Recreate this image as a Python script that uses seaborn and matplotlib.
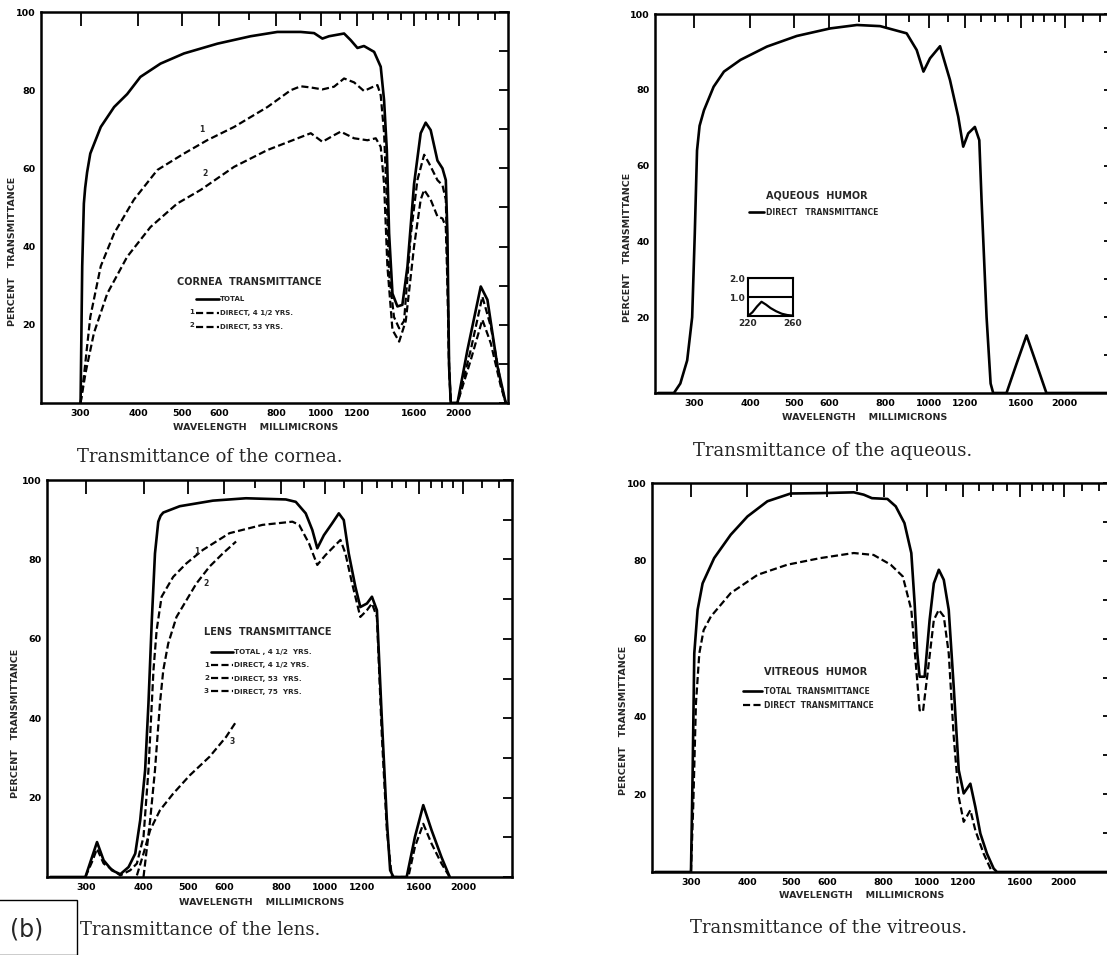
import matplotlib
matplotlib.use("Agg")
import matplotlib.pyplot as plt
from matplotlib.patches import Rectangle
from matplotlib.ticker import NullFormatter
import seaborn as sns

# ---- values (wavelength in millimicrons, percent transmittance)

# cornea
cornea_wl_total = [300, 302.5, 305, 307, 310, 315, 332, 355, 379, 405, 448, 504, 596, 704, 805, 905, 968,
                   1009, 1043, 1125, 1163, 1203, 1243, 1308, 1352, 1375, 1394, 1410, 1434, 1470, 1507,
                   1546, 1598, 1652, 1694, 1737, 1797, 1843, 1874, 1889, 1905, 1921, 1987, 2089, 2233,
                   2309, 2428, 2531]
cornea_total = [0, 35, 51, 55, 59, 63.8, 70.6, 75.7, 79, 83.4, 86.8, 89.4, 91.9, 93.8, 94.9, 94.9, 94.6,
                93.2, 93.8, 94.5, 92.8, 90.8, 91.3, 89.8, 86, 77.4, 64.7, 43.4, 28, 24.7, 25.1,
                34.9, 56, 69, 71.7, 69.8, 62, 60, 57, 43.4, 9.4, 0, 0, 13.6, 29.8,
                26.4, 9.4, 0]
cornea_wl_1 = [300, 305, 315, 332, 355, 392, 441, 504, 566, 648, 766, 861, 905, 952, 1009, 1070, 1125,
               1183, 1243, 1308, 1330, 1352, 1375, 1394, 1410, 1445, 1483, 1520, 1572, 1625, 1681, 1723,
               1797, 1843, 1874, 1889, 1905, 1921, 1987, 2124, 2251, 2348, 2469, 2531]
cornea_direct_1 = [0, 6.8, 22, 35, 43.4, 52, 59.6, 63.8, 67.2, 70.6, 75.7, 80, 81, 80.7, 80.2, 80.9, 83,
                   82, 79.8, 81, 81.3, 78.7, 69, 51.9, 33, 22, 19.1, 21, 43, 57, 63.5, 61.3,
                   57, 55.7, 52, 35, 9.4, 0, 0, 13.6, 27.2, 19.6, 5, 0]
cornea_wl_2 = [300, 307.6, 320.8, 343, 379, 426, 487, 548, 648, 766, 905, 952, 1009, 1070, 1106, 1183,
               1265, 1319, 1352, 1375, 1398, 1434, 1483, 1533, 1598, 1652, 1681, 1737, 1797, 1843, 1874,
               1889, 1905, 1921, 1987, 2124, 2251, 2348, 2469, 2531]
cornea_direct_2 = [0, 7.7, 17.9, 28, 37.4, 45, 51, 54.5, 60.4, 64.7, 68, 69, 66.8, 68.5, 69.4, 67.7,
                   67.2, 67.7, 65.5, 56, 35, 18.7, 15.7, 21, 40, 52, 54.5, 52, 47.7, 47.2, 45,
                   30.6, 9.4, 0, 0, 11, 21.3, 15.3, 4.3, 0]

# aqueous humor
aqueous_wl = [250, 271, 280, 290, 297.5, 301.5, 305, 309, 316, 332, 350, 381, 436, 508, 603, 691, 778,
              891, 938, 971, 1004, 1057, 1112, 1160, 1190, 1221, 1263, 1292, 1307, 1341, 1369, 1387,
              1485, 1563, 1645, 1730, 1821, 2550]
aqueous_direct = [0, 0, 2.5, 8.6, 20, 42, 64, 70.5, 74.6, 80.8, 84.8, 87.9, 91.4, 94.2, 96.2, 97.1, 96.8,
                  94.9, 90.5, 84.8, 88.3, 91.5, 82.6, 72.9, 65, 68.5, 70.2, 66.7, 50.9, 20, 2.5, 0,
                  0, 7.7, 15.2, 7.7, 0, 0]
inset_wl = [220, 224, 228, 232, 236, 240, 245, 250, 255, 260]
inset_val = [0, 0.2, 0.5, 0.75, 0.6, 0.42, 0.25, 0.12, 0.05, 0.02]

# lens
lens_wl_total = [250, 298.5, 308.6, 316.5, 327.2, 341.1, 355.9, 371, 383.7, 393.4, 403.3, 410.1, 417.1,
                 423.8, 430.9, 436, 441.9, 480.2, 567.4, 670.3, 819.3, 861.3, 905.6, 936.3, 960, 992.5,
                 1034.8, 1069.9, 1097, 1124.7, 1163, 1192.4, 1232.9, 1264.2, 1296.2, 1329.2, 1362.8,
                 1385.7, 1409, 1506, 1570, 1637.2, 1707, 1794.5, 1870.7]
lens_total = [0, 0, 5, 8.8, 4.2, 1.7, 0.7, 2.5, 5.9, 14.3, 26.9, 43.7, 64.7,
              81.5, 89.5, 91, 91.8, 93.4, 94.8, 95.4, 95.1, 94.5, 91.6, 87.4, 82.8, 86.1,
              89.1, 91.6, 89.9, 81.5, 73.1, 68, 68.9, 70.6, 67.2, 39.5, 14.3,
              1.7, 0, 0, 10.1, 18.1, 11.8, 5, 0]
lens_wl_1 = [298.5, 308.6, 316.5, 327.2, 355.9, 374.2, 386.9, 400, 410.1, 420.6, 427.4, 438.2, 464.5,
             496.5, 539.6, 616.7, 728.5, 846.9, 875.9, 920.9, 960, 1000.8, 1078.9, 1106.1, 1143.7,
             1192.4, 1232.9, 1264.2, 1296.2, 1329.2, 1362.8, 1397.3, 1518.6, 1570, 1637.2, 1707,
             1794.5, 1870.7]
lens_direct_1 = [0, 3.8, 7.1, 3.4, 0.4, 1.7, 3.4, 10.1, 26.9, 52.1, 62.2, 70.6, 75.6,
                 79, 82.4, 86.6, 88.7, 89.5, 88.7, 84, 78.6, 81.1, 84.9, 81.5, 74,
                 65.5, 67.2, 68.9, 65.5, 35.3, 11.8, 0, 0, 7.6, 13.4, 8.4,
                 3.4, 0]
lens_wl_2 = [400, 413.6, 423.8, 434.5, 441.9, 453, 472.3, 496.5, 521.9, 558, 596.5, 637.6]
lens_direct_2 = [0, 14.3, 26.9, 43.7, 52.1, 58.8, 65.5, 69.7, 73.9, 78.2, 81.5, 84.5]
lens_wl_3 = [386.9, 400, 413.6, 434.5, 464.5, 504.9, 558, 606.5, 637.6]
lens_direct_3 = [0.4, 5.9, 11.8, 16.8, 21, 25.6, 30.3, 35.3, 39.1]

# vitreous humor
vitreous_wl_total = [250, 300, 302.6, 305.1, 310.3, 318.3, 337.6, 367.3, 400, 442.7, 498.5, 580, 687.3,
                     723, 753.9, 815.7, 851, 889.6, 921.3, 937, 949.8, 961.1, 986, 1011.4, 1033.3,
                     1059.9, 1087, 1114.7, 1143.4, 1172.9, 1203, 1244.5, 1276.6, 1309.4, 1354.5,
                     1401.1, 1425, 2550]
vitreous_total = [0, 0, 26.2, 56.2, 67.4, 74.2, 80.7, 86.7, 91.4, 95.3, 97.3, 97.4, 97.6,
                  97, 96.1, 95.9, 94, 89.7, 82, 69.1, 56.2, 50.2, 50.2, 64.8, 74.2,
                  77.7, 75.1, 67.4, 47.6, 26.2, 20.2, 22.7, 16.7, 9.9, 4.7,
                  0.9, 0, 0]
vitreous_wl_direct = [300, 303.6, 307.7, 313, 320, 332.1, 367.3, 421.2, 490.1, 580, 687.3, 760.4,
                      829.5, 882, 921.3, 945.3, 961.1, 977.6, 1002.8, 1033.3, 1059.9, 1087, 1114.7,
                      1143.4, 1172.9, 1203, 1244.5, 1276.6, 1331.7, 1389.6]
vitreous_direct = [0, 17.6, 43.3, 56.2, 62.2, 65.7, 71.7, 76.4, 79, 80.7, 82, 81.5,
                   79, 76, 67.4, 51.9, 41.6, 41.2, 51.9, 64.8, 67.4, 65.7, 56.2,
                   34.8, 19.3, 12.9, 15.9, 10.7, 4.7, 0]

# axes
x_ticks = [300, 400, 500, 600, 800, 1000, 1200, 1600, 2000]
x_tick_labels = ['300', '400', '500', '600', '800', '1000', '1200', '1600', '2000']
x_minor = [700, 900, 1100, 1300, 1400, 1500, 1700, 1800, 1900, 2200, 2400]
y_ticks = [0, 10, 20, 30, 40, 50, 60, 70, 80, 90, 100]
y_tick_labels = ['', '', '20', '', '40', '', '60', '', '80', '', '100']

W, H = 1107, 955
DASH = (0, (3.2, 1.5))

sns.set_style("white")
plt.rcParams['font.family'] = ['DejaVu Sans']
plt.rcParams['font.weight'] = 'bold'

fig = plt.figure(figsize=(W / 100, H / 100), dpi=100)
fig.patch.set_facecolor('white')


def box(l, t, r, b):
    return [l / W, 1 - b / H, (r - l) / W, (b - t) / H]


def ftext(x, y, s, **kw):
    kw.setdefault('ha', 'center')
    kw.setdefault('va', 'center')
    kw.setdefault('fontweight', 'bold')
    return fig.text(x / W, 1 - y / H, s, **kw)


def caption(x, y, s):
    # y is the baseline
    return ftext(x, y, s, fontsize=13, ha='left', va='baseline',
                 family='DejaVu Serif', fontweight='normal')


def curve(ax, wl, val, dashed=False):
    sns.lineplot(x=wl, y=val, ax=ax, color='black', lw=1.6 if dashed else 1.9,
                 linestyle=DASH if dashed else '-', estimator=None, sort=False)
    return ax.get_lines()[-1]


def style_axis(ax):
    ax.set_xscale('log')
    ax.set_xlim(246, 2560)
    ax.set_ylim(0, 100)
    ax.set_xticks(x_ticks, labels=x_tick_labels)
    ax.set_xticks(x_minor, minor=True)
    ax.xaxis.set_minor_formatter(NullFormatter())
    ax.set_yticks(y_ticks, labels=y_tick_labels)
    ax.tick_params(which='both', direction='in', top=True, right=True, width=1.3, colors='black',
                   labelsize=6.8)
    ax.tick_params(axis='x', which='major', length=10, pad=4)
    ax.tick_params(axis='x', which='minor', length=5.5)
    ax.tick_params(axis='y', length=6.5, pad=4)
    for s in ax.spines.values():
        s.set_linewidth(1.8)
        s.set_color('black')
    ax.set_xlabel('')
    ax.set_ylabel('')
    ax.set_facecolor('white')


def add_legend(ax, handles, labels, x, y, size, hlen, spacing):
    ax.legend(handles, labels, loc='upper left', bbox_to_anchor=(x / W, 1 - y / H),
              bbox_transform=fig.transFigure, frameon=False, handlelength=hlen,
              handletextpad=0.2, labelspacing=spacing, borderpad=0, borderaxespad=0,
              prop={'size': size, 'weight': 'bold'})


# ---- cornea
ax1 = fig.add_axes(box(41, 12, 508, 403))
h_tot = curve(ax1, cornea_wl_total, cornea_total)
h_1 = curve(ax1, cornea_wl_1, cornea_direct_1, dashed=True)
h_2 = curve(ax1, cornea_wl_2, cornea_direct_2, dashed=True)
style_axis(ax1)
add_legend(ax1, [h_tot, h_1, h_2], ['TOTAL', 'DIRECT, 4 1/2 YRS.', 'DIRECT, 53 YRS.'],
           196, 296, 5, 3.3, 1.15)
ftext(249, 282, 'CORNEA  TRANSMITTANCE', fontsize=7)
ftext(194, 312, '1', fontsize=5, ha='right')
ftext(194, 325, '2', fontsize=5, ha='right')
ftext(202, 130, '1', fontsize=5.5)
ftext(205, 173, '2', fontsize=5.5)
ftext(13, 251, 'PERCENT   TRANSMITTANCE', fontsize=6.8, rotation=90)
ftext(256, 427, 'WAVELENGTH    MILLIMICRONS', fontsize=6.8)
caption(77, 462, 'Transmittance of the cornea.')

# ---- aqueous humor
ax2 = fig.add_axes(box(655, 14, 1113, 393))
h_aq = curve(ax2, aqueous_wl, aqueous_direct)
style_axis(ax2)
add_legend(ax2, [h_aq], ['DIRECT   TRANSMITTANCE'], 749, 208, 5.5, 2.0, 0.8)
ftext(817, 196, 'AQUEOUS  HUMOR', fontsize=7)
ftext(628, 247, 'PERCENT   TRANSMITTANCE', fontsize=6.8, rotation=90)
ftext(865, 417, 'WAVELENGTH    MILLIMICRONS', fontsize=6.8)
caption(693, 456, 'Transmittance of the aqueous.')

axi = fig.add_axes(box(748, 278, 793, 316))
sns.lineplot(x=inset_wl, y=inset_val, ax=axi, color='black', lw=1.6, estimator=None, sort=False)
axi.set_xlim(220, 260)
axi.set_ylim(0, 2)
axi.set_xticks([220, 260], labels=['220', '260'])
axi.set_yticks([1.0, 2.0], labels=['1.0', '2.0'])
axi.tick_params(length=0, labelsize=6.5, pad=2)
axi.yaxis.grid(True, color='black', lw=1.5)
axi.set_xlabel('')
axi.set_ylabel('')
for s in axi.spines.values():
    s.set_linewidth(1.5)
    s.set_color('black')

# ---- lens
ax3 = fig.add_axes(box(47, 480, 512, 877))
l_tot = curve(ax3, lens_wl_total, lens_total)
l_1 = curve(ax3, lens_wl_1, lens_direct_1, dashed=True)
l_2 = curve(ax3, lens_wl_2, lens_direct_2, dashed=True)
l_3 = curve(ax3, lens_wl_3, lens_direct_3, dashed=True)
style_axis(ax3)
add_legend(ax3, [l_tot, l_1, l_2, l_3],
           ['TOTAL , 4 1/2  YRS.', 'DIRECT, 4 1/2 YRS.', 'DIRECT, 53  YRS.', 'DIRECT, 75  YRS.'],
           211, 649, 5.2, 3.0, 1.0)
ftext(268, 632, 'LENS  TRANSMITTANCE', fontsize=7)
ftext(209, 665, '1', fontsize=5.2, ha='right')
ftext(209, 678, '2', fontsize=5.2, ha='right')
ftext(209, 691, '3', fontsize=5.2, ha='right')
ftext(197, 552, '1', fontsize=5.5)
ftext(206, 583, '2', fontsize=5.5)
ftext(232, 742, '3', fontsize=5.5)
ftext(16, 723, 'PERCENT   TRANSMITTANCE', fontsize=6.8, rotation=90)
ftext(262, 902, 'WAVELENGTH    MILLIMICRONS', fontsize=6.8)
caption(80, 935, 'Transmittance of the lens.')
fig.patches.append(Rectangle((-0.01, 0), 77 / W + 0.01, (H - 900) / H, transform=fig.transFigure,
                             fill=False, lw=1.0, edgecolor='black'))
ftext(27, 929, '(b)', fontsize=17, fontweight='normal')

# ---- vitreous humor
ax4 = fig.add_axes(box(652, 483, 1112, 872))
v_tot = curve(ax4, vitreous_wl_total, vitreous_total)
v_dir = curve(ax4, vitreous_wl_direct, vitreous_direct, dashed=True)
style_axis(ax4)
add_legend(ax4, [v_tot, v_dir], ['TOTAL  TRANSMITTANCE', 'DIRECT  TRANSMITTANCE'],
           743, 687, 5.5, 2.5, 0.6)
ftext(816, 672, 'VITREOUS  HUMOR', fontsize=7)
ftext(623, 720, 'PERCENT   TRANSMITTANCE', fontsize=6.8, rotation=90)
ftext(862, 895, 'WAVELENGTH    MILLIMICRONS', fontsize=6.8)
caption(690, 933, 'Transmittance of the vitreous.')

fig.savefig('out.png', dpi=100, facecolor='white')
